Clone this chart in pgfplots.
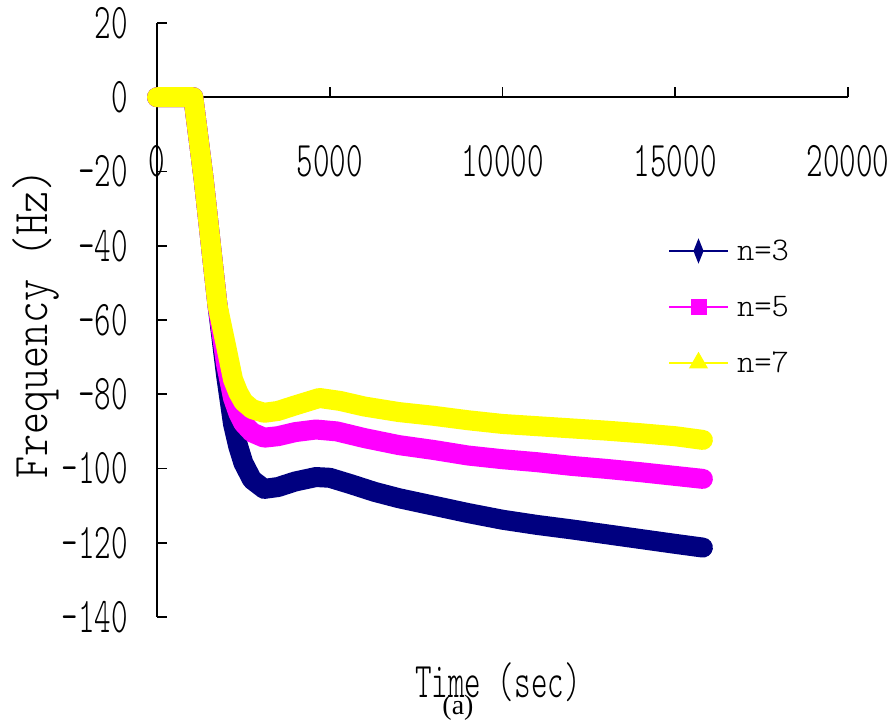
\documentclass[border=0pt]{standalone}
\usepackage{fontspec}
\usepackage{pgfplots}
\pgfplotsset{compat=1.18}
\newfontfamily\lblA{lmmonolt10-regular.otf}[FakeStretch=0.63]
\newfontfamily\lblB{lmmonolt10-regular.otf}[FakeStretch=0.84]
\newfontfamily\lblC{lmmonolt10-regular.otf}
\newfontfamily\capfont{Liberation Serif}
\definecolor{navyc}{RGB}{0,0,128}
\definecolor{magc}{RGB}{255,0,255}
\definecolor{yelc}{RGB}{255,255,0}
\begin{document}
\begin{tikzpicture}
\useasboundingbox (0,0) rectangle (893bp,721bp);
\begin{axis}[
  at={(157bp,104bp)}, anchor=south west,
  scale only axis, width=691bp, height=594bp,
  xmin=0, xmax=20000, ymin=-140, ymax=20,
  axis x line=middle, axis y line=left,
  axis line style={-, line width=1.6bp, black},
  x axis line style={-}, y axis line style={-},
  hide obscured x ticks=false,
  scaled x ticks=false,
  xtick={0,5000,10000,15000,20000},
  xticklabels={0,5000,10000,15000,20000},
  ytick={-140,-120,-100,-80,-60,-40,-20,0,20},
  yticklabels={{\textendash140},{\textendash120},{\textendash100},{\textendash80},{\textendash60},{\textendash40},{\textendash20},{0},{20}},
  tick align=inside,
  major tick length=10bp,
  tick style={line width=1.6bp, black},
  xticklabel style={font=\lblA\fontsize{50bp}{50bp}\selectfont, anchor=north, inner sep=0pt, yshift=-48bp},
  yticklabel style={font=\lblA\fontsize{50bp}{50bp}\selectfont, anchor=east, inner sep=0pt, xshift=-29bp},
  clip=false,
  legend cell align=left,
  legend style={draw=none, fill=none, inner sep=0pt, outer sep=0pt,
    at={(axis description cs:0.7395,0.6347)}, anchor=north west,
    row sep=34bp, column sep=8bp,
    font=\lblC\fontsize{33bp}{33bp}\selectfont,
    nodes={inner sep=0pt}},
  legend image code/.code={\draw[mark repeat=2, mark phase=2, #1] plot coordinates {(0bp,0bp) (29.5bp,0bp) (59bp,0bp)};},
]
\addplot[navyc, line width=20bp, line join=round, line cap=round, forget plot] coordinates {
(0,0) (1050,0) (1350,-22) (1750,-56) (2000,-75) (2200,-88) (2350,-94) (2500,-98.5) (2750,-103) (3100,-105.5) (3500,-105) (4000,-103.5) (4600,-102.3) (5000,-102.5) (5600,-104.2) (6300,-106.3) (7000,-108) (8000,-110) (9000,-112) (10000,-113.8) (11000,-115.2) (12000,-116.4) (13000,-117.7) (14000,-119) (15000,-120.3) (15800,-121.3)
};
\addplot[magc, line width=20bp, line join=round, line cap=round, forget plot] coordinates {
(0,0) (1050,0) (1350,-22) (1750,-56) (2000,-72) (2200,-81) (2350,-85) (2500,-87.8) (2750,-90.3) (3100,-91.7) (3500,-91.3) (4000,-90.2) (4600,-89.5) (5200,-90) (6000,-91.8) (7000,-93.7) (8000,-95) (9000,-96.5) (10000,-97.5) (11000,-98.3) (12000,-99.3) (13000,-100.1) (14000,-101) (15000,-102) (15800,-102.8)
};
\addplot[yelc, line width=20bp, line join=round, line cap=round, forget plot] coordinates {
(0,0) (1050,0) (1350,-22) (1750,-56) (2000,-67) (2200,-76) (2350,-79.5) (2500,-82) (2750,-84) (3100,-85) (3500,-84.5) (4000,-83) (4700,-81) (5300,-81.8) (6000,-83.3) (7000,-84.8) (8000,-85.8) (9000,-87) (10000,-88) (11000,-88.6) (12000,-89.2) (13000,-89.8) (14000,-90.5) (15000,-91.3) (15800,-92.3)
};
\addlegendimage{navyc, line width=2bp, mark=diamond*, mark size=10bp, mark options={xscale=0.53}}
\addlegendentry{n=3}
\addlegendimage{magc, line width=2bp, mark=square*, mark size=7bp}
\addlegendentry{n=5}
\addlegendimage{yelc, line width=2bp, mark=triangle*, mark size=9bp}
\addlegendentry{n=7}
\end{axis}
\node[anchor=base, inner sep=0pt, font=\lblA\fontsize{50bp}{50bp}\selectfont] at (498bp,24bp) {Time (sec)};
\node[anchor=base, rotate=90, inner sep=0pt, font=\lblB\fontsize{50bp}{50bp}\selectfont] at (47bp,397bp) {Frequency (Hz)};
\node[anchor=base, inner sep=0pt, font=\capfont\fontsize{28bp}{28bp}\selectfont] at (458bp,6.5bp) {(a)};
\end{tikzpicture}
\end{document}
